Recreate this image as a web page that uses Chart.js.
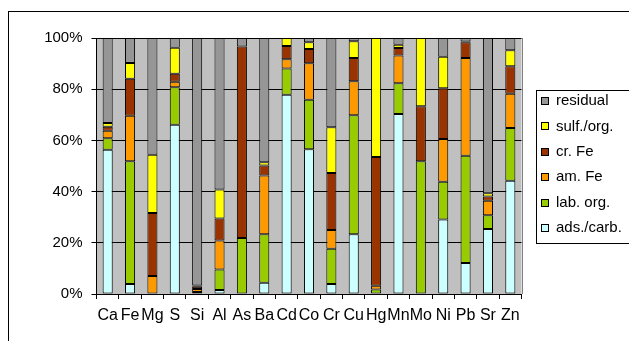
<!DOCTYPE html>
<html>
<head>
<meta charset="utf-8">
<script src="https://cdn.jsdelivr.net/npm/chart.js@4"></script>
<style>
  html,body{margin:0;padding:0;background:#fff;overflow:hidden;}
  #wrap{position:relative;width:629px;height:341px;}
  #frame{position:absolute;left:8px;top:11px;width:700px;height:400px;border:1px solid #000;}
  canvas{position:absolute;left:0;top:0;}
</style>
</head>
<body>
<div id="wrap">
  <div id="frame"></div>
  <canvas id="c" width="629" height="341"></canvas>
</div>
<script>
// categorias y fracciones (%)
const categorias = ['Ca','Fe','Mg','S','Si','Al','As','Ba','Cd','Co','Cr','Cu','Hg','Mn','Mo','Ni','Pb','Sr','Zn'];
const adsCarb  = [56.3, 3.9, 0, 66.1, 0, 1.6, 0, 4.4, 77.8, 56.5, 3.9, 23.3, 0, 70.3, 0, 29.1, 12.1, 25.4, 44.2];
const labOrg   = [4.5, 48.0, 0, 14.7, 0.8, 8.0, 21.9, 18.9, 10.3, 19.4, 13.8, 46.5, 1.8, 12.0, 51.9, 14.7, 41.9, 5.4, 20.6];
const amFe     = [3.0, 17.7, 7.0, 2.1, 1.2, 11.3, 0, 23.0, 3.6, 14.2, 7.3, 13.3, 1.4, 10.9, 0, 16.7, 38.2, 5.6, 13.4];
const crFe     = [1.5, 14.5, 24.6, 3.1, 0.8, 8.6, 74.8, 3.9, 5.2, 5.6, 22.3, 9.1, 50.3, 2.9, 21.4, 19.9, 6.1, 1.7, 10.8];
const sulfOrg  = [1.5, 6.1, 22.8, 10.2, 0.5, 11.3, 0, 1.3, 3.1, 2.6, 17.8, 6.5, 46.5, 1.3, 26.7, 12.3, 0.3, 1.3, 6.2];
const residual = [33.2, 9.8, 45.6, 3.8, 96.7, 59.2, 3.3, 48.5, 0, 1.7, 34.9, 1.3, 0, 2.6, 0, 7.3, 1.4, 60.6, 4.8];
const yTicks = [0, 20, 40, 60, 80, 100];

const FONT = '"Liberation Sans", Arial, sans-serif';

function serie(label, data, color){
  return {
    label, data,
    backgroundColor: color,
    borderColor: '#000',
    borderWidth: 1,
    borderSkipped: false,
    barPercentage: 0.45,
    categoryPercentage: 1.0
  };
}

// fondo gris del area de trazado
const fondo = {
  id: 'fondo',
  beforeDraw(chart){
    const {ctx, chartArea:a} = chart;
    ctx.save();
    ctx.fillStyle = '#c0c0c0';
    ctx.fillRect(a.left, a.top, a.right - a.left, a.bottom - a.top);
    ctx.restore();
  },
  afterDatasetsDraw(chart){
    const {ctx, chartArea:a} = chart;
    ctx.save();
    ctx.strokeStyle = '#808080';
    ctx.lineWidth = 1;
    ctx.beginPath();
    ctx.moveTo(Math.round(a.right) + 0.5, a.top);
    ctx.lineTo(Math.round(a.right) + 0.5, a.bottom);
    ctx.stroke();
    ctx.restore();
  }
};

// leyenda tipo Excel (orden inverso)
const leyenda = {
  id: 'leyenda',
  afterDraw(chart){
    const ctx = chart.ctx;
    const x0 = 536, y0 = 90, h = 153;
    ctx.save();
    ctx.fillStyle = '#fff';
    ctx.fillRect(x0 + 0.5, y0 + 0.5, 120, h);
    ctx.strokeStyle = '#000';
    ctx.lineWidth = 1;
    ctx.strokeRect(x0 + 0.5, y0 + 0.5, 120, h);
    const ds = chart.data.datasets.slice().reverse();
    ds.forEach((d, i) => {
      const cy = 101 + i * 25.4;
      ctx.fillStyle = d.backgroundColor;
      ctx.fillRect(541.5, Math.round(cy) - 3.5, 7, 7);
      ctx.strokeStyle = '#000';
      ctx.strokeRect(541.5, Math.round(cy) - 3.5, 7, 7);
      ctx.fillStyle = '#000';
      ctx.font = '15px ' + FONT;
      ctx.textBaseline = 'middle';
      ctx.fillText(d.label, 556, cy);
    });
    ctx.restore();
  }
};

new Chart(document.getElementById('c'), {
  type: 'bar',
  data: {
    labels: categorias,
    datasets: [
      serie('ads./carb.', adsCarb, '#ccffff'),
      serie('lab. org.', labOrg, '#99cc00'),
      serie('am. Fe', amFe, '#ff9900'),
      serie('cr. Fe', crFe, '#993300'),
      serie('sulf./org.', sulfOrg, '#ffff00'),
      serie('residual', residual, '#969696')
    ]
  },
  options: {
    responsive: false,
    animation: false,
    layout: { padding: { left: 0, top: 38, right: 107.5, bottom: 0 } },
    plugins: { legend: { display: false }, tooltip: { enabled: false } },
    scales: {
      x: {
        stacked: true,
        afterFit: s => { s.height = 47; },
        grid: { offset: true, drawOnChartArea: false, color: '#000', tickLength: 5 },
        border: { color: '#000' },
        ticks: { color: '#000', font: { family: FONT, size: 16 }, padding: 7, maxRotation: 0, autoSkip: false }
      },
      y: {
        stacked: true,
        min: 0, max: 100,
        afterFit: s => { s.width = 96.5; },
        afterBuildTicks: s => { s.ticks = yTicks.map(v => ({ value: v })); },
        grid: { color: '#000', tickLength: 5 },
        border: { color: '#000' },
        ticks: { color: '#000', font: { family: FONT, size: 15 }, padding: 9, callback: v => v + '%' }
      }
    }
  },
  plugins: [fondo, leyenda]
});
</script>
</body>
</html>
